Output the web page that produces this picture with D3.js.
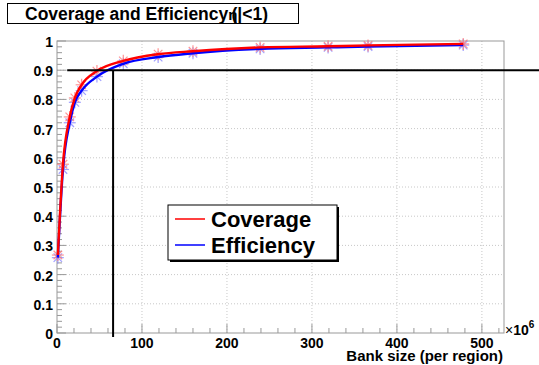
<!DOCTYPE html>
<html>
<head>
<meta charset="utf-8">
<script src="https://cdn.jsdelivr.net/npm/d3@7"></script>
<style>
  body { margin: 0; background: #fff; }
  svg { display: block; font-family: "Liberation Sans", Arial, sans-serif; }
</style>
</head>
<body>
<svg id="chart" width="539" height="365"></svg>
<script>
// data (bank size in units of 10^6)
const bankSize   = [1, 7, 15, 21, 29, 47, 78, 119, 160, 239, 319, 366, 478];
const coverage   = [0.267, 0.578, 0.74, 0.805, 0.85, 0.897, 0.932, 0.955, 0.965, 0.978, 0.982, 0.985, 0.99];
const efficiency = [0.258, 0.56, 0.72, 0.79, 0.83, 0.878, 0.922, 0.945, 0.958, 0.973, 0.978, 0.981, 0.986];
const xTicks = [0, 100, 200, 300, 400, 500];
const yTicks = [0, 0.1, 0.2, 0.3, 0.4, 0.5, 0.6, 0.7, 0.8, 0.9, 1];
const cutLevel = 0.9;   // horizontal reference line
const cutSize = 66;     // vertical reference line
const seriesNames = ['Coverage', 'Efficiency'];

const svg = d3.select('#chart');
const width = 539, height = 365;
const margin = { top: 41, right: 35, bottom: 32, left: 57 };
const plotWidth = width - margin.left - margin.right;
const plotHeight = height - margin.top - margin.bottom;

const x = d3.scaleLinear().domain([0, 526]).range([0, plotWidth]);
const y = d3.scaleLinear().domain([0, 1]).range([plotHeight, 0]);

const g = svg.append('g').attr('transform', `translate(${margin.left},${margin.top})`);

// grid
g.selectAll('.gx').data(xTicks.slice(1)).enter().append('line')
    .attr('x1', d => x(d)).attr('x2', d => x(d))
    .attr('y1', 0).attr('y2', plotHeight)
    .attr('stroke', '#c8c8c8').attr('stroke-dasharray', '1,2');
g.selectAll('.gy').data(yTicks.slice(1, -1)).enter().append('line')
    .attr('x1', 0).attr('x2', plotWidth)
    .attr('y1', d => y(d)).attr('y2', d => y(d))
    .attr('stroke', '#c8c8c8').attr('stroke-dasharray', '1,2');

// frame
g.append('rect').attr('width', plotWidth).attr('height', plotHeight)
    .attr('fill', 'none').attr('stroke', '#999').attr('stroke-width', 1);

// ticks pointing inside
const xMinor = d3.range(0, 521, 20);
g.selectAll('.tx').data(xMinor).enter().append('line')
    .attr('x1', d => x(d)).attr('x2', d => x(d))
    .attr('y1', plotHeight).attr('y2', d => plotHeight - (d % 100 === 0 ? 9 : 5))
    .attr('stroke', '#999');
const yMinor = d3.range(0, 51).map(i => i * 0.02).filter(v => v <= 1.0001);
g.selectAll('.ty').data(yMinor).enter().append('line')
    .attr('x1', 0).attr('x2', (d, i) => (i % 5 === 0 ? 9 : 5))
    .attr('y1', d => y(d)).attr('y2', d => y(d))
    .attr('stroke', '#999');

// tick labels
g.selectAll('.lx').data(xTicks).enter().append('text')
    .attr('x', d => x(d)).attr('y', plotHeight + 15)
    .attr('text-anchor', 'middle')
    .attr('font-size', 14).attr('font-weight', 'bold')
    .text(d => d);
g.selectAll('.ly').data(yTicks).enter().append('text')
    .attr('x', -4).attr('y', d => y(d) + 6)
    .attr('text-anchor', 'end')
    .attr('font-size', 14).attr('font-weight', 'bold')
    .text(d => d);

// ×10^6 and axis title
const mult = g.append('text').attr('x', plotWidth + 1).attr('y', plotHeight + 2)
    .attr('font-size', 14).attr('font-weight', 'bold');
mult.append('tspan').attr('font-weight', 'normal').text('\u00d7');
mult.append('tspan').text('10');
mult.append('tspan').attr('dy', -7).attr('font-size', 10).text('6');
g.append('text').attr('x', plotWidth - 1).attr('y', plotHeight + 28)
    .attr('text-anchor', 'end').attr('font-size', 15).attr('font-weight', 'bold')
    .text('Bank size (per region)');

// curves
const series = [
    { name: seriesNames[0], vals: coverage, line: '#ff0000', mark: '#ff7a7a' },
    { name: seriesNames[1], vals: efficiency, line: '#0000ff', mark: '#8a8aff' }
];
const line = d3.line().x(d => x(d[0])).y(d => y(d[1])).curve(d3.curveMonotoneX);

// asterisk markers
function star(sel, color) {
    const r = 6;
    [0, 45, 90, 135].forEach(a => {
        const t = a * Math.PI / 180;
        sel.append('line')
            .attr('x1', -r * Math.cos(t)).attr('y1', -r * Math.sin(t))
            .attr('x2', r * Math.cos(t)).attr('y2', r * Math.sin(t))
            .attr('stroke', color).attr('stroke-width', 1.2).attr('opacity', 0.8);
    });
}
series.slice().reverse().forEach(s => {
    g.selectAll(null).data(bankSize).enter().append('g')
        .attr('transform', (d, i) => `translate(${x(d)},${y(s.vals[i])})`)
        .each(function () { star(d3.select(this), s.mark); });
});
series.slice().reverse().forEach(s => {
    g.append('path').datum(bankSize.map((d, i) => [d, s.vals[i]]))
        .attr('d', line).attr('fill', 'none')
        .attr('stroke', s.line).attr('stroke-width', 2.4);
});

// reference lines
g.append('line')
    .attr('x1', x(12)).attr('x2', width)
    .attr('y1', y(cutLevel)).attr('y2', y(cutLevel))
    .attr('stroke', '#000').attr('stroke-width', 2);
g.append('line')
    .attr('x1', x(cutSize)).attr('x2', x(cutSize))
    .attr('y1', y(cutLevel)).attr('y2', plotHeight + 4)
    .attr('stroke', '#000').attr('stroke-width', 2);

// legend
const leg = svg.append('g').attr('transform', 'translate(168,205)');
leg.append('rect').attr('x', 2).attr('y', 2).attr('width', 169).attr('height', 55).attr('fill', '#000');
leg.append('rect').attr('width', 169).attr('height', 55).attr('fill', '#fff').attr('stroke', '#000');
series.forEach((s, i) => {
    const ly = 14 + i * 26;
    leg.append('line').attr('x1', 7).attr('x2', 37).attr('y1', ly).attr('y2', ly)
        .attr('stroke', s.line).attr('stroke-width', 1.5);
    leg.append('text').attr('x', 43).attr('y', ly + 8)
        .attr('font-size', 22).attr('font-weight', 'bold').text(s.name);
});

// title box
const tb = svg.append('g');
tb.append('rect').attr('x', 7.5).attr('y', 3.5).attr('width', 291).attr('height', 20)
    .attr('fill', '#fff').attr('stroke', '#000');
const title = tb.append('text').attr('x', 25).attr('y', 20)
    .attr('font-size', 17.5).attr('font-weight', 'bold');
title.append('tspan').text('Coverage and Efficiency');
title.append('tspan').attr('font-size', 15).text('\u03b7');
title.append('tspan').attr('dx', -6).text('(|');
title.append('tspan').text('<1)');
</script>
</body>
</html>
